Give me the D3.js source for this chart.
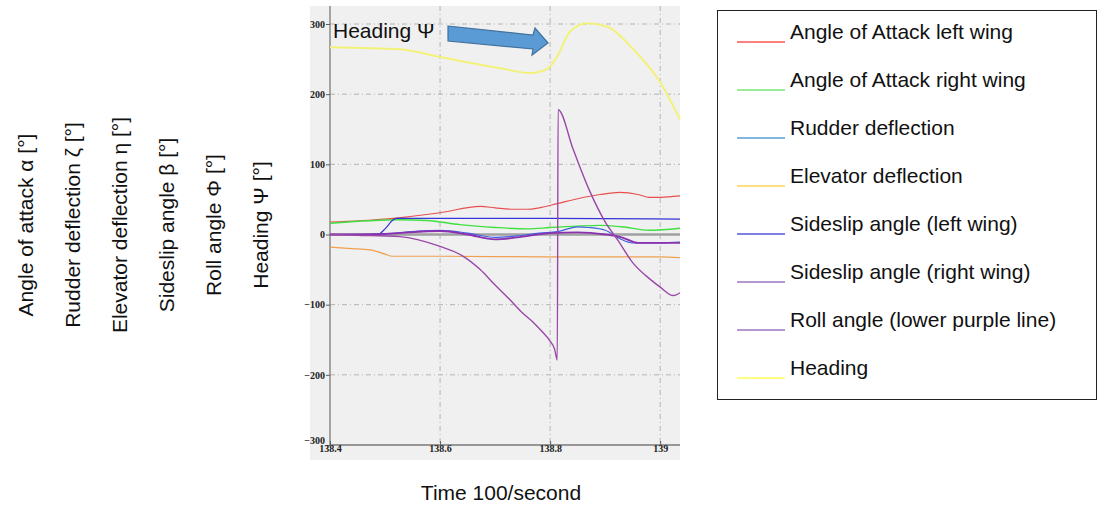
<!DOCTYPE html>
<html>
<head>
<meta charset="utf-8">
<script src="https://cdn.jsdelivr.net/npm/d3@7"></script>
<style>
  body { margin: 0; background: #fff; }
  svg { display: block; }
</style>
</head>
<body>
<script>
// time axis ticks (100/second) and value ticks
var xTicks = [138.4, 138.6, 138.8, 139];
var yTicks = [-300, -200, -100, 0, 100, 200, 300];

// series: [time, degrees]
var aoaLeft = [[138.4, 17.6], [138.5, 22], [138.515, 23], [138.6, 31], [138.673, 40], [138.7, 38],
    [138.73, 36], [138.758, 36], [138.78, 38], [138.813, 44], [138.85, 51], [138.891, 57],
    [138.927, 60], [138.96, 57], [138.98, 53], [139.0, 53], [139.036, 55]];
var aoaRight = [[138.4, 16], [138.527, 21], [138.576, 20], [138.636, 14], [138.7, 10], [138.76, 8],
    [138.8, 10], [138.85, 12], [138.891, 13], [138.93, 11], [138.98, 6], [139.036, 9]];
var rudder = [[138.4, 0], [138.5, 1], [138.56, 5], [138.6, 6], [138.65, 2], [138.7, -4], [138.74, -2],
    [138.78, 2], [138.813, 4], [138.85, 11], [138.87, 10], [138.9, 6], [138.927, -6], [138.95, -12],
    [139.0, -12], [139.036, -11]];
var elevator = [[138.4, -18], [138.44, -20], [138.473, -22], [138.5, -28], [138.513, -31],
    [138.6, -31], [138.8, -32], [139.0, -32], [139.036, -33]];
var sideslipLeft = [[138.4, 0], [138.487, 0], [138.5, 8], [138.515, 21], [138.522, 23],
    [138.6, 23], [138.8, 23], [139.036, 22]];
var sideslipRight = [[138.4, 0], [138.5, 1], [138.6, 5], [138.65, 0], [138.7, -7], [138.75, -3],
    [138.8, 2], [138.85, 3], [138.9, 0], [138.93, -4], [138.96, -12], [139.036, -12]];
var roll = [[138.4, 0], [138.45, -1], [138.527, -3], [138.6, -17], [138.64, -30], [138.673, -50],
    [138.7, -72], [138.727, -93], [138.75, -112], [138.769, -125], [138.785, -138], [138.8, -152],
    [138.808, -163], [138.813, -179], [138.8145, 178], [138.842, 121], [138.873, 60], [138.9, 18],
    [138.922, -7], [138.95, -40], [138.982, -64], [139.0, -75], [139.024, -87], [139.036, -83]];
var heading = [[138.4, 267], [138.527, 264], [138.6, 253], [138.709, 237], [138.764, 230],
    [138.795, 236], [138.813, 254], [138.836, 289], [138.867, 301], [138.904, 296], [138.951, 264],
    [139.0, 217], [139.036, 164]];

var seriesNames = ['Angle of Attack left wing', 'Angle of Attack right wing', 'Rudder deflection',
    'Elevator deflection', 'Sideslip angle (left wing)', 'Sideslip angle (right wing)',
    'Roll angle (lower purple line)', 'Heading'];
var legendColors = ['#ff0000', '#33dd33', '#0070c0', '#ffc000', '#0000cc', '#7030a0', '#7030a0', '#ffff00'];
var axisLabels = ['Angle of attack α [°]', 'Rudder deflection ζ [°]', 'Elevator deflection η [°]',
    'Sideslip angle β [°]', 'Roll angle Φ [°]', 'Heading Ψ [°]'];

var plotSeries = [
    { data: heading, color: '#f2f27a', width: 2 },
    { data: elevator, color: '#f0a050', width: 1.2 },
    { data: aoaLeft, color: '#e85050', width: 1.2 },
    { data: aoaRight, color: '#40e040', width: 1.4 },
    { data: sideslipLeft, color: '#3434d8', width: 1.2 },
    { data: rudder, color: '#4060e0', width: 1.2 },
    { data: sideslipRight, color: '#8a30b0', width: 1.8 },
    { data: roll, color: '#9a48a8', width: 1.4 }
];

var svg = d3.select('body').append('svg')
    .attr('width', 1098)
    .attr('height', 506)
    .attr('font-family', 'Liberation Sans, Arial, sans-serif');

// plot panel
svg.append('rect')
    .attr('x', 310).attr('y', 6)
    .attr('width', 370).attr('height', 454)
    .attr('fill', '#f0f0f0');

var x = d3.scaleLinear().domain([138.4, 139.036]).range([330, 680]);
var y = d3.scaleLinear().domain([-300, 300]).range([445, 24]);

// grid
var grid = svg.append('g')
    .attr('stroke', '#b4b4b4')
    .attr('stroke-width', 1)
    .attr('stroke-dasharray', '5,3,1,3');
grid.selectAll('line.h')
    .data(yTicks.filter(function(d) { return d !== 0 && d !== -300; }))
    .enter().append('line')
      .attr('x1', 330).attr('x2', 680)
      .attr('y1', function(d) { return y(d); })
      .attr('y2', function(d) { return y(d); });
grid.selectAll('line.v')
    .data(xTicks.slice(1))
    .enter().append('line')
      .attr('y1', 6).attr('y2', 445)
      .attr('x1', function(d) { return x(d); })
      .attr('x2', function(d) { return x(d); });

// zero line
svg.append('line')
    .attr('x1', 330).attr('x2', 680)
    .attr('y1', y(0)).attr('y2', y(0))
    .attr('stroke', '#a0a0a0')
    .attr('stroke-width', 2.5);

// axes
var yAxis = svg.append('g')
    .attr('transform', 'translate(330,0)')
    .call(d3.axisLeft(y).tickValues(yTicks).tickSize(4).tickPadding(1));
var xAxis = svg.append('g')
    .attr('transform', 'translate(0,445)')
    .call(d3.axisBottom(x).tickValues(xTicks).tickSize(-4).tickPadding(1)
        .tickFormat(function(d) { return d3.format('')(d); }));
[yAxis, xAxis].forEach(function(ax) {
    ax.select('.domain').attr('stroke', '#7a7a7a').attr('stroke-width', 1.3);
    ax.selectAll('.tick line').attr('stroke', '#606060');
    ax.selectAll('text')
      .attr('font-family', 'Liberation Serif, Times New Roman, serif')
      .attr('font-weight', 'bold')
      .attr('font-size', 10)
      .attr('fill', '#222');
});
yAxis.select('.domain').attr('d', 'M0,6V445');
xAxis.select('.domain').attr('d', 'M330,0H680');
xAxis.selectAll('.tick text').attr('dy', '0.6em');
yAxis.selectAll('.tick text').filter(function(d) { return d === -300; }).attr('dy', '-0.2em');

// data lines
var line = d3.line()
    .x(function(p) { return x(p[0]); })
    .y(function(p) { return y(p[1]); })
    .curve(d3.curveMonotoneX);

svg.append('g')
    .selectAll('path')
    .data(plotSeries)
    .enter().append('path')
      .attr('fill', 'none')
      .attr('stroke', function(d) { return d.color; })
      .attr('stroke-width', function(d) { return d.width; })
      .attr('stroke-linejoin', 'round')
      .attr('d', function(d) { return line(d.data); });

// heading annotation
svg.append('text')
    .attr('x', 333).attr('y', 38)
    .attr('font-size', 21)
    .attr('fill', '#111')
    .text('Heading Ψ');
svg.append('polygon')
    .attr('points', '448,26 533,35 535,28 548,43 532,55 533,49 448,41')
    .attr('fill', '#5b9bd5')
    .attr('stroke', '#41719c')
    .attr('stroke-width', 1.2);

// rotated axis labels on the left
svg.append('g')
    .selectAll('text')
    .data(axisLabels)
    .enter().append('text')
      .attr('transform', function(d, i) {
          return 'translate(' + (32.5 + i * 47) + ',225) rotate(-90)';
      })
      .attr('text-anchor', 'middle')
      .attr('font-size', 21)
      .attr('fill', '#111')
      .text(function(d) { return d; });

// x axis title
svg.append('text')
    .attr('x', 501).attr('y', 500)
    .attr('text-anchor', 'middle')
    .attr('font-size', 21)
    .attr('fill', '#111')
    .text('Time 100/second');

// legend
var legend = svg.append('g');
legend.append('rect')
    .attr('x', 717.5).attr('y', 10.5)
    .attr('width', 379).attr('height', 389)
    .attr('fill', '#fff')
    .attr('stroke', '#222')
    .attr('stroke-width', 1);
var rows = legend.selectAll('g.row')
    .data(seriesNames)
    .enter().append('g')
      .attr('transform', function(d, i) { return 'translate(0,' + (i * 48) + ')'; });
rows.append('line')
    .attr('x1', 737).attr('x2', 785)
    .attr('y1', 42).attr('y2', 42)
    .attr('stroke', function(d, i) { return legendColors[i]; })
    .attr('stroke-width', 1.2);
rows.append('text')
    .attr('x', 790).attr('y', 39)
    .attr('font-size', 21)
    .attr('fill', '#111')
    .text(function(d) { return d; });
</script>
</body>
</html>
